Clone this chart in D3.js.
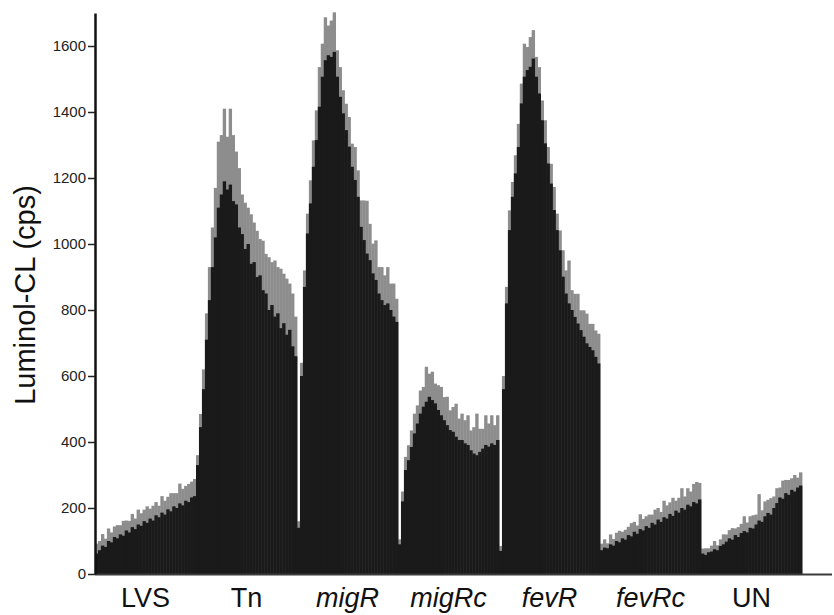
<!DOCTYPE html>
<html>
<head>
<meta charset="utf-8">
<script src="https://cdn.jsdelivr.net/npm/d3@7"></script>
<style>
	html, body { margin: 0; padding: 0; background: #fff; }
</style>
</head>
<body>
<script>
// group labels (italic ones are gene names)
const groups = ["LVS", "Tn", "migR", "migRc", "fevR", "fevRc", "UN"];
const italicGroups = ["migR", "migRc", "fevR", "fevRc"];

const yTicks = [0, 200, 400, 600, 800, 1000, 1200, 1400, 1600];

// mean luminol-CL per time point
const lvsMean = [62, 72, 86, 82, 100, 96, 112, 108, 120, 116, 132, 126, 142, 136, 150, 146, 160, 155, 168, 162, 178, 172, 186, 180, 196, 190, 205, 200, 214, 208, 222, 218, 232, 236];
const lvsErr = [30, 28, 35, 25, 38, 30, 32, 40, 28, 45, 30, 35, 40, 32, 45, 38, 35, 50, 30, 45, 40, 35, 50, 42, 38, 55, 40, 45, 60, 50, 45, 55, 48, 52];

const tnMean = [330, 445, 560, 710, 830, 930, 1020, 1110, 1150, 1190, 1165, 1180, 1130, 1120, 1050, 1030, 985, 1000, 940, 945, 900, 905, 860, 850, 800, 815, 780, 790, 745, 760, 725, 740, 690, 660];
const tnErr = [30, 40, 60, 80, 100, 120, 150, 200, 180, 220, 160, 230, 200, 160, 180, 120, 140, 110, 150, 120, 140, 110, 150, 120, 160, 130, 170, 140, 180, 150, 170, 140, 160, 120];

const migRMean = [140, 600, 870, 1032, 1123, 1234, 1315, 1416, 1507, 1557, 1572, 1567, 1582, 1507, 1446, 1396, 1345, 1295, 1234, 1194, 1143, 1052, 1012, 971, 951, 911, 891, 850, 830, 815, 820, 800, 780, 764];
const migRErr = [20, 40, 50, 60, 70, 80, 90, 120, 100, 130, 90, 110, 120, 80, 90, 70, 80, 90, 70, 100, 80, 80, 120, 160, 110, 90, 120, 80, 100, 90, 110, 80, 100, 70];

const migRcMean = [90, 220, 315, 345, 385, 426, 456, 486, 507, 522, 537, 527, 517, 497, 481, 466, 451, 436, 431, 416, 406, 406, 396, 391, 375, 365, 360, 370, 380, 391, 386, 396, 391, 406];
const migRcErr = [15, 30, 40, 45, 50, 60, 55, 70, 60, 106, 70, 86, 60, 75, 86, 70, 86, 60, 75, 100, 65, 80, 70, 90, 60, 80, 126, 70, 60, 90, 70, 85, 60, 75];

const fevRMean = [70, 560, 820, 1042, 1143, 1214, 1294, 1426, 1507, 1527, 1537, 1562, 1507, 1456, 1375, 1305, 1244, 1183, 1103, 1042, 981, 901, 850, 820, 800, 779, 759, 739, 719, 699, 688, 678, 658, 638];
const fevRErr = [15, 40, 50, 60, 45, 55, 70, 60, 100, 70, 90, 86, 60, 80, 60, 70, 50, 60, 70, 50, 60, 80, 70, 130, 60, 70, 90, 60, 80, 90, 70, 80, 80, 90];

const fevRcMean = [72, 80, 78, 90, 86, 100, 96, 108, 104, 118, 114, 128, 122, 136, 132, 145, 140, 155, 150, 165, 158, 172, 168, 182, 176, 192, 186, 200, 195, 210, 205, 218, 214, 226];
const fevRcErr = [20, 25, 15, 30, 20, 25, 35, 20, 30, 25, 40, 30, 25, 45, 35, 30, 40, 25, 45, 35, 30, 50, 40, 35, 55, 30, 45, 60, 40, 50, 45, 55, 65, 50];

const unMean = [62, 58, 66, 68, 75, 72, 85, 90, 98, 108, 104, 118, 112, 124, 130, 126, 140, 138, 150, 162, 158, 175, 185, 180, 200, 215, 232, 228, 245, 240, 255, 250, 262, 268];
const unErr = [15, 20, 12, 18, 25, 15, 20, 30, 22, 25, 35, 20, 30, 28, 45, 30, 35, 40, 30, 80, 35, 45, 40, 50, 35, 45, 30, 55, 40, 45, 35, 50, 30, 40];

const seriesMeans = [lvsMean, tnMean, migRMean, migRcMean, fevRMean, fevRcMean, unMean];
const seriesErrs = [lvsErr, tnErr, migRErr, migRcErr, fevRErr, fevRcErr, unErr];

const WIDTH = 834;
const HEIGHT = 615;
const MARGIN = { top: 13, right: 32, bottom: 41, left: 95 };
const AXIS_END = 832;
const FONT = "'Liberation Sans', Arial, Helvetica, sans-serif";

const data = [];
groups.forEach((g, gi) => {
	seriesMeans[gi].forEach((v, i) => {
		data.push({ group: g, index: i, value: v, err: seriesErrs[gi][i] });
	});
});

const svg = d3.select("body").append("svg")
	.attr("width", WIDTH)
	.attr("height", HEIGHT);

const x = d3.scaleBand()
	.domain(groups)
	.range([MARGIN.left, WIDTH - MARGIN.right])
	.padding(0);

const xInner = d3.scaleBand()
	.domain(d3.range(lvsMean.length))
	.range([0, x.bandwidth()])
	.padding(0);

const y = d3.scaleLinear()
	.domain([0, 1700])
	.range([HEIGHT - MARGIN.bottom, MARGIN.top]);

const barGroup = svg.append("g");

// gray bars = mean + error, drawn behind
barGroup.selectAll(".err")
	.data(data)
	.join("rect")
	.attr("class", "err")
	.attr("x", d => x(d.group) + xInner(d.index))
	.attr("width", xInner.bandwidth() + 0.4)
	.attr("y", d => y(d.value + d.err))
	.attr("height", d => y(0) - y(d.value + d.err))
	.attr("fill", "#8d8d8d");

barGroup.selectAll(".mean")
	.data(data)
	.join("rect")
	.attr("class", "mean")
	.attr("x", d => x(d.group) + xInner(d.index))
	.attr("width", xInner.bandwidth() + 0.4)
	.attr("y", d => y(d.value))
	.attr("height", d => y(0) - y(d.value))
	.attr("fill", "#1a1a1a");

// x axis: plain line with category labels
svg.append("line")
	.attr("x1", MARGIN.left)
	.attr("x2", AXIS_END)
	.attr("y1", y(0) + 0.5)
	.attr("y2", y(0) + 0.5)
	.attr("stroke", "#3a3a3a")
	.attr("stroke-width", 2);

svg.append("g")
	.selectAll("text")
	.data(groups)
	.join("text")
	.attr("x", d => x(d) + x.bandwidth() / 2)
	.attr("y", 607)
	.attr("text-anchor", "middle")
	.attr("font-family", FONT)
	.attr("font-size", "27px")
	.attr("font-style", d => italicGroups.includes(d) ? "italic" : "normal")
	.attr("fill", "#111")
	.text(d => d);

// y axis
const yAxis = d3.axisLeft(y)
	.tickValues(yTicks)
	.tickFormat(d3.format("d"))
	.tickSize(7)
	.tickSizeOuter(0)
	.tickPadding(2);

const yAxisGroup = svg.append("g")
	.attr("transform", `translate(${MARGIN.left},0)`)
	.call(yAxis);

yAxisGroup.select(".domain")
	.attr("stroke", "#111")
	.attr("stroke-width", 2.5);

yAxisGroup.selectAll(".tick line")
	.attr("stroke", "#222")
	.attr("stroke-width", 1.5);

yAxisGroup.selectAll(".tick text")
	.attr("font-family", FONT)
	.attr("font-size", "15px")
	.attr("fill", "#222");

svg.append("text")
	.attr("transform", `translate(35, 295) rotate(-90)`)
	.attr("text-anchor", "middle")
	.attr("font-family", FONT)
	.attr("font-size", "29px")
	.attr("fill", "#111")
	.text("Luminol-CL (cps)");
</script>
</body>
</html>
